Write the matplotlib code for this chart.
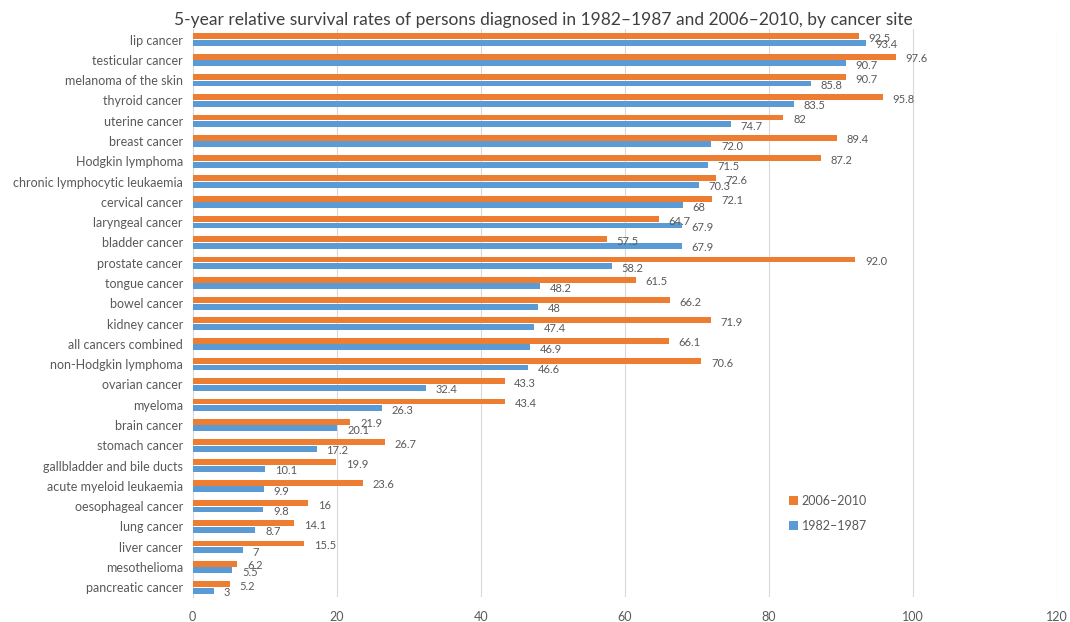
import numpy as np
import matplotlib.pyplot as plt

plt.rcParams['font.family'] = ['Lato', 'DejaVu Sans']

sites = ['lip cancer', 'testicular cancer', 'melanoma of the skin', 'thyroid cancer',
         'uterine cancer', 'breast cancer', 'Hodgkin lymphoma',
         'chronic lymphocytic leukaemia', 'cervical cancer', 'laryngeal cancer',
         'bladder cancer', 'prostate cancer', 'tongue cancer', 'bowel cancer',
         'kidney cancer', 'all cancers combined', 'non-Hodgkin lymphoma',
         'ovarian cancer', 'myeloma', 'brain cancer', 'stomach cancer',
         'gallbladder and bile ducts', 'acute myeloid leukaemia',
         'oesophageal cancer', 'lung cancer', 'liver cancer', 'mesothelioma',
         'pancreatic cancer']
recent = [92.5, 97.6, 90.7, 95.8, 82, 89.4, 87.2, 72.6, 72.1, 64.7, 57.5, 92.0,
          61.5, 66.2, 71.9, 66.1, 70.6, 43.3, 43.4, 21.9, 26.7, 19.9, 23.6, 16,
          14.1, 15.5, 6.2, 5.2]
recent_lbl = ['92.5', '97.6', '90.7', '95.8', '82', '89.4', '87.2', '72.6', '72.1',
              '64.7', '57.5', '92.0', '61.5', '66.2', '71.9', '66.1', '70.6', '43.3',
              '43.4', '21.9', '26.7', '19.9', '23.6', '16', '14.1', '15.5', '6.2', '5.2']
early = [93.4, 90.7, 85.8, 83.5, 74.7, 72.0, 71.5, 70.3, 68, 67.9, 67.9, 58.2,
         48.2, 48, 47.4, 46.9, 46.6, 32.4, 26.3, 20.1, 17.2, 10.1, 9.9, 9.8, 8.7,
         7, 5.5, 3]
early_lbl = ['93.4', '90.7', '85.8', '83.5', '74.7', '72.0', '71.5', '70.3', '68',
             '67.9', '67.9', '58.2', '48.2', '48', '47.4', '46.9', '46.6', '32.4',
             '26.3', '20.1', '17.2', '10.1', '9.9', '9.8', '8.7', '7', '5.5', '3']

orange = '#ED7D31'
blue = '#5B9BD5'
grey = '#595959'

fig = plt.figure(figsize=(10.7, 6.22), dpi=100)
ax = fig.add_axes([0.180, 0.0394, 0.808, 0.9132])

y = np.arange(len(sites))
h = 0.29
ax.barh(y - 0.16, recent, height=h, color=orange, label='2006–2010', zorder=3)
ax.barh(y + 0.16, early, height=h, color=blue, label='1982–1987', zorder=3)

for i in range(len(sites)):
    ax.annotate(recent_lbl[i], (recent[i], y[i] - 0.16), xytext=(7, -1.5),
                textcoords='offset points', va='center', ha='left',
                fontsize=8, color=grey)
    ax.annotate(early_lbl[i], (early[i], y[i] + 0.16), xytext=(7, -1.5),
                textcoords='offset points', va='center', ha='left',
                fontsize=8, color=grey)

ax.set_xlim(0, 120)
ax.set_ylim(len(sites) - 0.5, -0.5)
ax.set_xticks(np.arange(0, 121, 20))
ax.set_yticks(y)
ax.set_yticklabels(sites)
ax.tick_params(axis='both', length=0, colors=grey, labelsize=9)
ax.tick_params(axis='x', pad=10)
ax.tick_params(axis='y', pad=7)
ax.grid(axis='x', color='#D9D9D9', linewidth=0.8, zorder=0)
for s in ['top', 'right', 'bottom']:
    ax.spines[s].set_visible(False)
ax.spines['left'].set_color('#D9D9D9')

fig.text(0.508, 0.968,
         '5-year relative survival rates of persons diagnosed in 1982–1987 and 2006–2010, by cancer site',
         fontsize=12.5, color='#404040', ha='center', va='center')

leg = ax.legend(loc='upper left', bbox_to_anchor=(0.677, 0.20), frameon=False,
                fontsize=9, handlelength=0.7, handleheight=0.7, labelspacing=1.0,
                handletextpad=0.3, labelcolor=grey)

fig.savefig('out.png', dpi=100)
